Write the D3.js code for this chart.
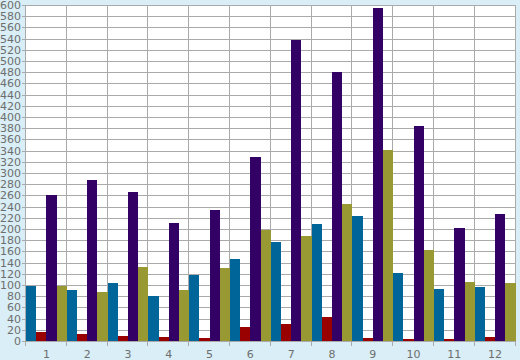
<!DOCTYPE html>
<html>
<head>
<meta charset="utf-8">
<script src="https://cdn.jsdelivr.net/npm/d3@7"></script>
<style>
html,body{margin:0;padding:0;background:#d9eef6;}
svg{display:block;}
text{font-family:"DejaVu Sans",Verdana,sans-serif;font-size:11px;fill:#6e6e6e;}
</style>
</head>
<body>
<svg id="chart" width="520" height="360"></svg>
<script>
const categories = ["1","2","3","4","5","6","7","8","9","10","11","12"];
const seriesNames = ["blue","red","purple","olive"];
const blueValues   = [99, 91, 104, 80, 118, 146, 177, 209, 223, 121, 92, 96];
const redValues    = [16, 12, 9, 7, 5, 25, 30, 43, 5, 3, 3, 7];
const purpleValues = [260, 287, 266, 210, 234, 328, 537, 481, 595, 384, 202, 227];
const oliveValues  = [99, 88, 132, 91, 130, 198, 187, 245, 341, 162, 105, 103];
const yTicks = d3.range(0, 601, 20);
const seriesColors = ["#006699", "#990000", "#330066", "#999933"];

const allSeries = [blueValues, redValues, purpleValues, oliveValues];

const svg = d3.select("#chart");
const pLeft = 26, pRight = 515.5, pTop = 5, pBottom = 341;

svg.append("rect").attr("x",0).attr("y",0).attr("width",520).attr("height",360).attr("fill","#d9eef6");
svg.append("rect").attr("x",pLeft).attr("y",pTop).attr("width",pRight-pLeft).attr("height",pBottom-pTop).attr("fill","#ffffff");

const x = d3.scaleBand().domain(categories).range([pLeft, pRight]).padding(0);
const xs = d3.scaleBand().domain(seriesNames).range([0, x.bandwidth()]).padding(0);
const y = d3.scaleLinear().domain([0, 600]).range([pBottom, pTop]);

// horizontal gridlines
svg.append("g").selectAll("line").data(yTicks).join("line")
  .attr("x1", pLeft - 4).attr("x2", pRight)
  .attr("y1", d => Math.round(y(d)) + 0.5).attr("y2", d => Math.round(y(d)) + 0.5)
  .attr("stroke", "#aaaaaa").attr("stroke-width", 1);

// vertical gridlines at category boundaries
const bounds = categories.map(c => x(c)).concat([pRight]);
svg.append("g").selectAll("line").data(bounds).join("line")
  .attr("x1", d => Math.round(d) - 0.5).attr("x2", d => Math.round(d) - 0.5)
  .attr("y1", pTop).attr("y2", pBottom + 5)
  .attr("stroke", "#aaaaaa").attr("stroke-width", 1);

// bars
const g = svg.append("g").attr("shape-rendering", "crispEdges");
categories.forEach((c, i) => {
  seriesNames.forEach((s, j) => {
    const v = allSeries[j][i];
    g.append("rect")
      .attr("x", x(c) + xs(s))
      .attr("y", y(v))
      .attr("width", xs.bandwidth())
      .attr("height", y(0) - y(v))
      .attr("fill", seriesColors[j]);
  });
});

// y labels
svg.append("g").selectAll("text").data(yTicks).join("text")
  .attr("x", 21).attr("y", d => Math.round(y(d)) + 4)
  .attr("text-anchor", "end")
  .text(d => d);

// x labels
svg.append("g").selectAll("text").data(categories).join("text")
  .attr("x", d => x(d) + x.bandwidth() / 2)
  .attr("y", 358)
  .attr("text-anchor", "middle")
  .text(d => d);
</script>
</body>
</html>
